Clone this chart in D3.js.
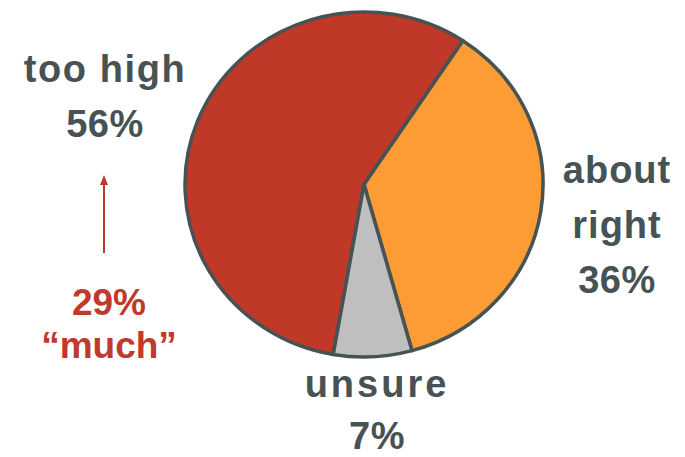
<!DOCTYPE html>
<html>
<head>
<meta charset="utf-8">
<script src="https://cdn.jsdelivr.net/npm/d3@7"></script>
<style>
  html, body { margin: 0; padding: 0; background: #ffffff; }
  svg { display: block; }
  text { font-family: "Liberation Sans", Arial, sans-serif; font-weight: bold; }
</style>
</head>
<body>
<svg id="chart" width="685" height="457"></svg>
<script>
// ---- data ----
const categories = ["too high", "about right", "unsure"];
const values = [56, 36, 7];
const labelLines = [["too high"], ["about", "right"], ["unsure"]];
const annotationLines = ["29%", "\u201Cmuch\u201D"];

// ---- styles ----
const sliceColors = ["#bf3828", "#fd9b35", "#bfbfbf"];
const textColor = "#465254";
const accentColor = "#c0392b";
const strokeColor = "#465254";

const svg = d3.select("#chart");

const cx = 364, cy = 184.5, rx = 179, ry = 172.5;
const startDeg = -170.1;

const pie = d3.pie()
  .sort(null)
  .value(d => d)
  .startAngle(startDeg * Math.PI / 180)
  .endAngle((startDeg + 360) * Math.PI / 180);

const arc = d3.arc().innerRadius(0).outerRadius(rx);

const g = svg.append("g")
  .attr("transform", `translate(${cx},${cy}) scale(1,${ry / rx})`);

g.selectAll("path.slice")
  .data(pie(values))
  .join("path")
  .attr("class", "slice")
  .attr("d", arc)
  .attr("fill", (d, i) => sliceColors[i])
  .attr("stroke", strokeColor)
  .attr("stroke-width", 3.5)
  .attr("stroke-linejoin", "round")
  .attr("vector-effect", "non-scaling-stroke");

// ---- labels ----
const labelPos = [
  { x: 105, y: 82, ls: 1.6, lh: 55 },
  { x: 617, y: 183, ls: 1.0, lh: 55 },
  { x: 377, y: 397, ls: 3.0, lh: 52 }
];

categories.forEach((c, i) => {
  const lines = labelLines[i].concat([values[i] + "%"]);
  const t = svg.append("text")
    .attr("text-anchor", "middle")
    .attr("fill", textColor)
    .attr("font-size", 38);
  lines.forEach((l, j) => {
    t.append("tspan")
      .attr("x", labelPos[i].x)
      .attr("y", labelPos[i].y + j * labelPos[i].lh)
      .attr("letter-spacing", j < lines.length - 1 ? labelPos[i].ls : 0.5)
      .text(l);
  });
});

// ---- annotation arrow ----
svg.append("defs").append("marker")
  .attr("id", "arrowhead")
  .attr("viewBox", "0 0 10 10")
  .attr("refX", 5).attr("refY", 5)
  .attr("markerWidth", 5).attr("markerHeight", 5)
  .attr("orient", "auto")
  .append("path")
  .attr("d", "M0,1 L10,5 L0,9 Z")
  .attr("fill", accentColor);

svg.append("line")
  .attr("x1", 104).attr("y1", 253)
  .attr("x2", 104).attr("y2", 180)
  .attr("stroke", accentColor)
  .attr("stroke-width", 2)
  .attr("marker-end", "url(#arrowhead)");

const at = svg.append("text")
  .attr("text-anchor", "middle")
  .attr("fill", accentColor)
  .attr("font-size", 37);
annotationLines.forEach((l, j) => {
  at.append("tspan")
    .attr("x", 109)
    .attr("y", 315 + j * 43)
    .text(l);
});
</script>
</body>
</html>
